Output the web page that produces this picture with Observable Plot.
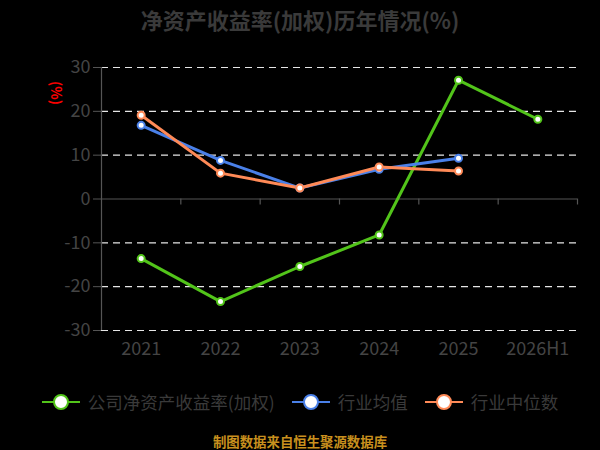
<!DOCTYPE html>
<html><head><meta charset="utf-8">
<script src="https://cdn.jsdelivr.net/npm/d3@7"></script>
<script src="https://cdn.jsdelivr.net/npm/@observablehq/plot@0.6"></script>
<style>
  html,body{margin:0;padding:0;background:#000;}
  #wrap{position:relative;width:600px;height:450px;background:#000;font-family:"Noto Sans CJK SC","Noto Sans",sans-serif;overflow:hidden;}
  #title{position:absolute;left:0;top:4px;width:600px;text-align:center;font-size:22px;font-weight:bold;color:#3a3a3a;line-height:30px;}
  #unit{position:absolute;left:45px;top:85px;font-size:14px;font-weight:bold;color:#ff0000;transform:rotate(90deg);transform-origin:center;line-height:16px;}
  #chart{position:absolute;left:0;top:40px;}
  #legend{position:absolute;left:0;top:390px;width:600px;display:flex;justify-content:center;align-items:center;gap:17px;font-size:17.5px;color:#3a3a3a;line-height:24px;}
  .item{display:flex;align-items:center;}
  .item svg{margin-right:8px;}
  #footer{position:absolute;left:0;top:432px;width:600px;text-align:center;font-size:13.4px;font-weight:bold;color:#c8901e;line-height:18px;}
</style>
</head><body>
<div id="wrap">
  <div id="title">净资产收益率(加权)历年情况(%)</div>
  <div id="unit">(%)</div>
  <div id="chart"></div>
  <div id="legend"></div>
  <div id="footer">制图数据来自恒生聚源数据库</div>
</div>
<script>
const categories = ["2021","2022","2023","2024","2025","2026H1"];
const companyROE = [-13.6, -23.4, -15.4, -8.2, 27.1, 18.2];
const industryMean = [16.8, 8.8, 2.5, 6.8, 9.3, null];
const industryMedian = [19.1, 5.9, 2.5, 7.3, 6.4, null];
const yTicks = [-30, -20, -10, 0, 10, 20, 30];
const seriesNames = ["公司净资产收益率(加权)", "行业均值", "行业中位数"];
const seriesColors = ["#52c41a", "#4a80e8", "#ff8a57"];

const seriesValues = [companyROE, industryMean, industryMedian];
const rows = [];
seriesValues.forEach((vals, s) => {
  vals.forEach((v, i) => {
    if (v !== null) rows.push({series: seriesNames[s], cat: categories[i], pos: i + 0.5, value: v});
  });
});
const catRows = categories.map((c, i) => ({cat: c, pos: i + 0.5}));
const boundaries = d3.range(1, categories.length + 1);

const plot = Plot.plot({
  width: 600,
  height: 340,
  marginLeft: 101,
  marginRight: 23,
  marginTop: 27,
  marginBottom: 50,
  style: {background: "transparent", fontFamily: '"Noto Sans CJK SC","Noto Sans",sans-serif'},
  x: {type: "linear", domain: [0, categories.length], axis: null},
  y: {domain: [-30, 30], axis: null},
  color: {domain: seriesNames, range: seriesColors},
  marks: [
    Plot.ruleY(yTicks.filter(v => v !== 0), {stroke: "#e6e6e6", strokeWidth: 1.2, strokeDasharray: "7,5"}),
    Plot.ruleY([0], {stroke: "#555", strokeWidth: 1.2}),
    Plot.ruleX(boundaries, {x: d => d, y1: 0, y2: 0, insetBottom: -6, stroke: "#555", strokeWidth: 1.2}),
    Plot.ruleX([0], {y1: -30, y2: 30, stroke: "#555", strokeWidth: 1.2}),
    Plot.axisY({ticks: yTicks, label: null, tickSize: 8, tickPadding: 3, fontSize: 18, color: "#444", stroke: "#555", tickFormat: d => String(d)}),
    Plot.text(catRows, {x: "pos", y: () => -30, text: "cat", dy: 19, fontSize: 18, fill: "#444"}),
    Plot.line(rows, {x: "pos", y: "value", z: "series", stroke: "series", strokeWidth: 3}),
    Plot.dot(rows, {x: "pos", y: "value", stroke: "series", fill: "white", r: 3.5, strokeWidth: 2})
  ]
});
document.getElementById("chart").appendChild(plot);

const legend = document.getElementById("legend");
seriesNames.forEach((name, s) => {
  const item = document.createElement("div");
  item.className = "item";
  const c = seriesColors[s];
  item.innerHTML = `<svg width="38" height="18"><line x1="0" y1="9" x2="38" y2="9" stroke="${c}" stroke-width="2"/><circle cx="19" cy="9" r="7" fill="white" stroke="${c}" stroke-width="2"/></svg><span>${name}</span>`;
  legend.appendChild(item);
});
</script>
</body></html>
